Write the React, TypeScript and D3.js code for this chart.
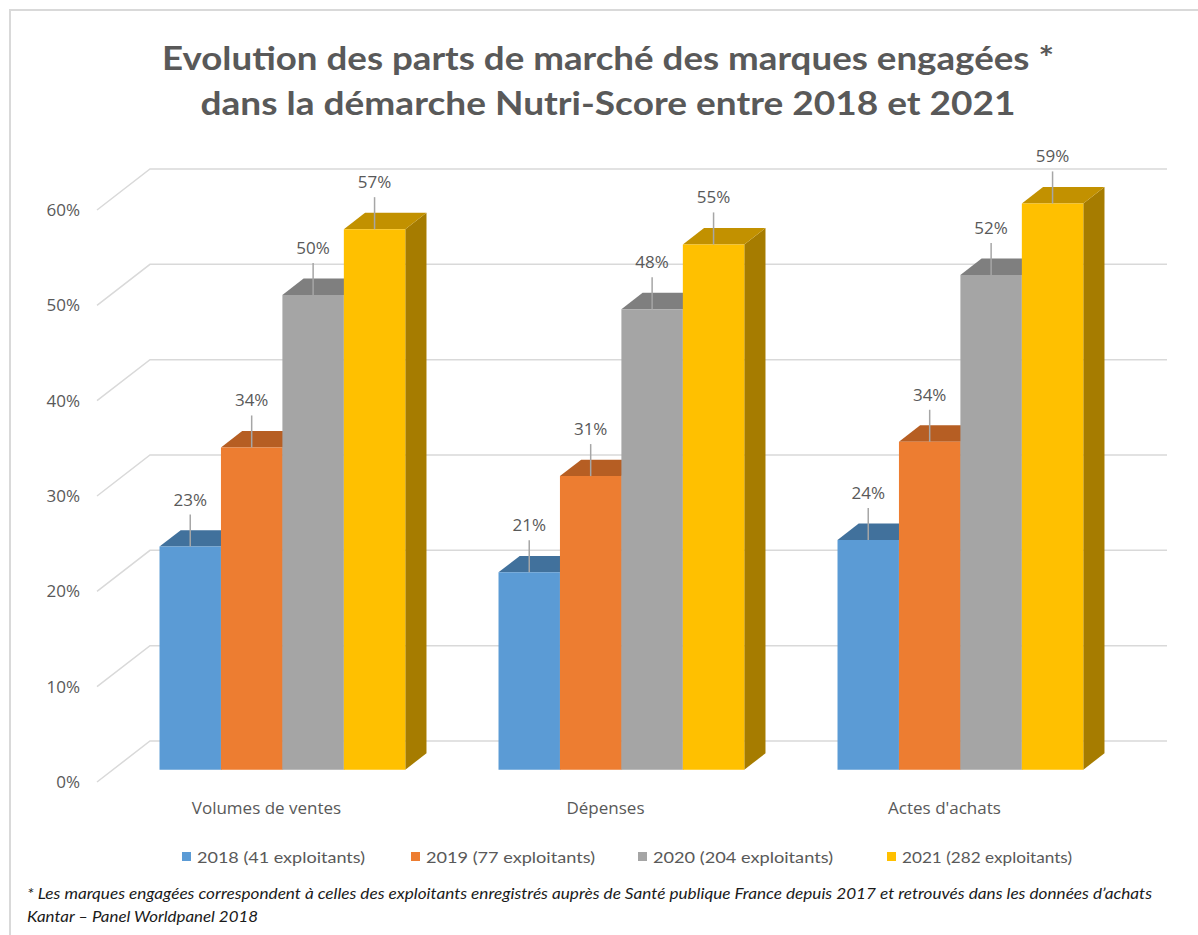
import React, { useEffect, useRef } from "react";
import * as d3 from "d3";

// categories and series
const categories = ["Volumes de ventes", "Dépenses", "Actes d'achats"];
const seriesLabels = [
  "2018 (41 exploitants)",
  "2019 (77 exploitants)",
  "2020 (204 exploitants)",
  "2021 (282 exploitants)",
];
const values2018 = [23.4, 20.7, 24.1];
const values2019 = [33.8, 30.8, 34.4];
const values2020 = [49.8, 48.3, 51.9];
const values2021 = [56.7, 55.1, 59.4];
const yTicks = [0, 10, 20, 30, 40, 50, 60];

const titleLines = [
  "Evolution des parts de marché des marques engagées *",
  "dans la démarche Nutri-Score entre 2018 et 2021",
];
const footnoteLines = [
  "* Les marques engagées correspondent à celles des exploitants enregistrés auprès de Santé publique France depuis 2017 et retrouvés dans les données d’achats",
  "Kantar – Panel Worldpanel 2018",
];

const frontColors = ["#5B9BD5", "#ED7D31", "#A5A5A5", "#FFC000"];
const topColors = ["#41719C", "#B65E23", "#7F7F7F", "#C29100"];
const sideColors = ["#3A6690", "#A35420", "#737373", "#A67C00"];

export default function App() {
  const ref = useRef<SVGSVGElement>(null);

  useEffect(() => {
    const svg = d3.select(ref.current);
    svg.selectAll("*").remove();

    const series = [values2018, values2019, values2020, values2021];
    const depth = { dx: 53, dy: -41 }; // floor front edge -> back wall
    const zFront = 0.3;
    const zBack = 0.7;

    const y = d3.scaleLinear().domain([0, 60]).range([782, 210]);
    const x0 = d3
      .scaleBand()
      .domain(categories)
      .range([97, 1114])
      .paddingInner(0.275)
      .paddingOuter(0.1375);
    const x1 = d3
      .scaleBand()
      .domain(seriesLabels)
      .range([0, x0.bandwidth()]);

    const proj = (x: number, v: number, z: number): [number, number] => [
      x + z * depth.dx,
      y(v) + z * depth.dy,
    ];
    const pts = (arr: [number, number][]) => arr.map((p) => p.join(",")).join(" ");

    // frame
    svg
      .append("path")
      .attr("d", "M10,935 L10,10 L1198,10")
      .attr("fill", "none")
      .attr("stroke", "#D9D9D9")
      .attr("stroke-width", 2);

    // title
    const titleWidths = [892, 815];
    svg
      .selectAll("text.title")
      .data(titleLines)
      .enter()
      .append("text")
      .attr("class", "title")
      .attr("x", 608)
      .attr("y", (d, i) => 70 + i * 45)
      .attr("text-anchor", "middle")
      .attr("font-family", "Lato, 'Open Sans', sans-serif")
      .attr("font-weight", "bold")
      .attr("font-size", 32)
      .attr("fill", "#595959")
      .attr("textLength", (d, i) => titleWidths[i])
      .attr("lengthAdjust", "spacingAndGlyphs")
      .text((d) => d);

    // gridlines: side wall diagonal + back wall
    const grid = svg.append("g");
    yTicks.forEach((t) => {
      const a = proj(97, t, 0);
      const b = proj(97, t, 1);
      grid
        .append("polyline")
        .attr("points", pts([a, b, [1167, b[1]]]))
        .attr("fill", "none")
        .attr("stroke", "#D9D9D9")
        .attr("stroke-width", 1.5);
    });

    // y labels
    svg
      .selectAll("text.ytick")
      .data(yTicks)
      .enter()
      .append("text")
      .attr("class", "ytick")
      .attr("x", 80)
      .attr("y", (d) => y(d))
      .attr("dy", "0.35em")
      .attr("text-anchor", "end")
      .attr("font-family", "'Open Sans', sans-serif")
      .attr("font-size", 17)
      .attr("fill", "#595959")
      .text((d) => d + "%");

    // bars
    const bars = svg.append("g");
    categories.forEach((cat, ci) => {
      series.forEach((vals, si) => {
        const v = vals[ci];
        const x = (x0(cat) as number) + (x1(seriesLabels[si]) as number);
        const w = x1.bandwidth();
        const A = proj(x, 0, zFront);
        const B = proj(x + w, 0, zFront);
        const C = proj(x + w, v, zFront);
        const D = proj(x, v, zFront);
        const Bb = proj(x + w, 0, zBack);
        const Cb = proj(x + w, v, zBack);
        const Db = proj(x, v, zBack);
        bars.append("polygon").attr("points", pts([B, Bb, Cb, C])).attr("fill", sideColors[si]);
        bars.append("polygon").attr("points", pts([D, C, Cb, Db])).attr("fill", topColors[si]);
        bars.append("polygon").attr("points", pts([A, B, C, D])).attr("fill", frontColors[si]);
      });
    });

    // data labels with leader lines
    const labels = svg.append("g");
    categories.forEach((cat, ci) => {
      series.forEach((vals, si) => {
        const v = vals[ci];
        const x = (x0(cat) as number) + (x1(seriesLabels[si]) as number);
        const [fx, fy] = proj(x, v, zFront);
        const cx = fx + x1.bandwidth() / 2;
        labels
          .append("line")
          .attr("x1", cx)
          .attr("x2", cx)
          .attr("y1", fy - 32)
          .attr("y2", fy)
          .attr("stroke", "#A6A6A6")
          .attr("stroke-width", 1.5);
        labels
          .append("text")
          .attr("x", cx)
          .attr("y", fy - 41)
          .attr("text-anchor", "middle")
          .attr("font-family", "'Open Sans', sans-serif")
          .attr("font-size", 17)
          .attr("fill", "#595959")
          .text(Math.round(v) + "%");
      });
    });

    // category labels
    svg
      .selectAll("text.cat")
      .data(categories)
      .enter()
      .append("text")
      .attr("class", "cat")
      .attr("x", (d) => (x0(d) as number) + x0.bandwidth() / 2)
      .attr("y", y(0) + 32)
      .attr("text-anchor", "middle")
      .attr("font-family", "'Open Sans', sans-serif")
      .attr("font-size", 17)
      .attr("fill", "#595959")
      .text((d) => d);

    // legend
    const legendX = [182, 411, 638, 887];
    const legendW = [168, 169, 180, 170];
    const legend = svg.append("g");
    seriesLabels.forEach((s, i) => {
      legend
        .append("rect")
        .attr("x", legendX[i])
        .attr("y", 852)
        .attr("width", 9)
        .attr("height", 9)
        .attr("fill", frontColors[i]);
      legend
        .append("text")
        .attr("x", legendX[i] + 15)
        .attr("y", 863)
        .attr("font-family", "Lato, 'Open Sans', sans-serif")
        .attr("font-size", 16)
        .attr("fill", "#595959")
        .attr("textLength", legendW[i])
        .attr("lengthAdjust", "spacingAndGlyphs")
        .text(s);
    });

    // footnote
    const footW = [1125, 231];
    svg
      .selectAll("text.foot")
      .data(footnoteLines)
      .enter()
      .append("text")
      .attr("class", "foot")
      .attr("x", 27)
      .attr("y", (d, i) => 899 + i * 23)
      .attr("font-family", "Lato, 'Open Sans', sans-serif")
      .attr("font-style", "italic")
      .attr("font-size", 15)
      .attr("fill", "#1A1A1A")
      .attr("textLength", (d, i) => footW[i])
      .attr("lengthAdjust", "spacingAndGlyphs")
      .text((d) => d);
  }, []);

  return (
    <svg
      ref={ref}
      width={1198}
      height={935}
      style={{ position: "absolute", left: 0, top: 0, background: "#fff" }}
    />
  );
}
